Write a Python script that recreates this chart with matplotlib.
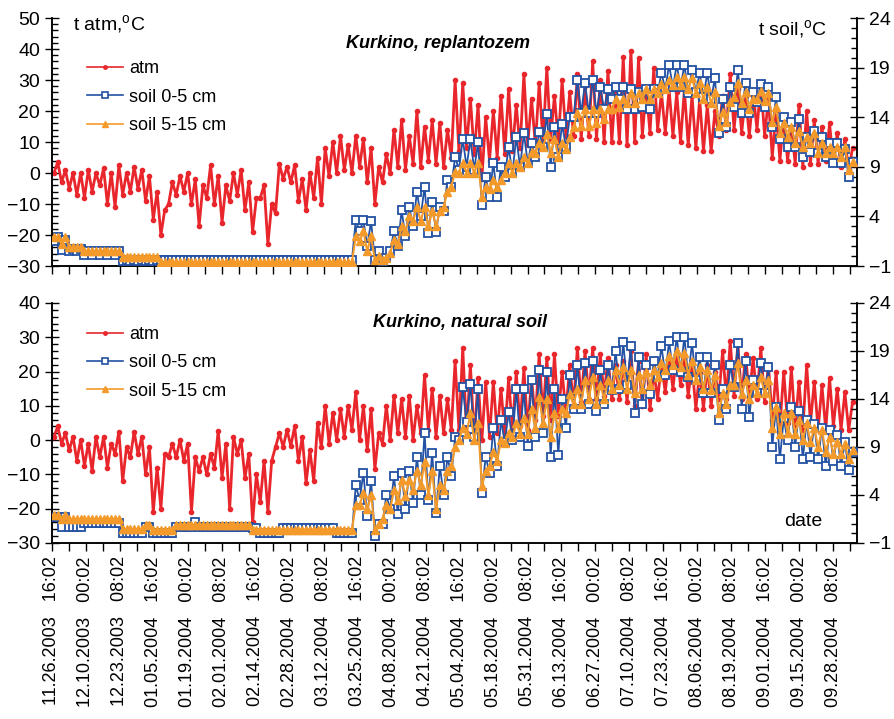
import matplotlib.pyplot as plt
import numpy as np

plt.rcParams['font.family'] = ['Liberation Sans', 'DejaVu Sans']
plt.rcParams['mathtext.fontset'] = 'custom'
plt.rcParams['mathtext.rm'] = 'Liberation Sans'

# every series is stored as 3-day bins: lowest and highest reading in each bin
STEP = 3

TICK_DATES = ['11.26.2003', '12.10.2003', '12.23.2003', '01.05.2004', '01.19.2004',
              '02.01.2004', '02.14.2004', '02.28.2004', '03.12.2004', '03.25.2004',
              '04.08.2004', '04.21.2004', '05.04.2004', '05.18.2004', '05.31.2004',
              '06.13.2004', '06.27.2004', '07.10.2004', '07.23.2004', '08.06.2004',
              '08.19.2004', '09.01.2004', '09.15.2004', '09.28.2004']
TICK_TIMES = ['16:02', '00:02', '08:02'] * 8

# --- Kurkino, replantozem ---
top_atm_lo = [0, -3, -5, -7, -8, -6, -4, -10, -11, -7,
              -6, -5, -9, -15, -20, -10, -7, -6, -10, -17,
              -8, -10, -16, -9, -7, -12, -19, -8, -23, -13,
              -2, -3, -9, -12, -8, -10, -1, 0, 1, 0,
              2, -3, -10, -3, 0, 2, 1, 3, 2, 4,
              3, 2, 5, 7, 8, 6, -2, 4, 5, 6,
              7, 8, 9, 9, 10, 11, 10, 12, 12, 11,
              12, 11, 10, 10, 10, 9, 10, 12, 13, 14,
              13, 12, 10, 9, 8, 7, 7, 12, 14, 14,
              13, 12, 14, 12, 5, 4, 4, 3, 2, 3,
              3, 4, 3, 2, 1]
top_atm_hi = [3.5, 1, 0, 0, 1, 0, 1.5, 0, 2.5, 0,
              2, 1, -1, -6, -12, -3, -1, 0, -2, -4,
              2.5, -1, -4, 0, 1, -3, -8, -4, -10, 3,
              2, 2.5, -2, 0, 5, 8, 10, 12, 9, 12,
              11, 8, 2, 6, 14, 17, 12, 20, 15, 17,
              16, 14, 30, 29, 24, 22, 18, 20, 25, 27,
              22, 32, 24, 29, 34, 25, 30, 26, 32, 28,
              36, 30, 33, 28, 37.5, 39.5, 37, 27, 34, 26,
              27, 26, 27, 25, 24, 22, 20, 25, 32, 27,
              25, 26, 29, 24, 20, 18, 15, 22, 20, 17,
              15, 16, 13, 11, 8]
top_s1_lo = [1.5, 0.6, 0.5, 0.5, 0.1, 0.1, 0.1, 0.1, 0.1, -0.5,
             -0.5, -0.5, -0.5, -0.5, -0.35, -0.35, -0.35, -0.35, -0.35, -0.35,
             -0.35, -0.35, -0.35, -0.35, -0.35, -0.35, -0.35, -0.35, -0.35, -0.35,
             -0.35, -0.35, -0.35, -0.35, -0.35, -0.35, -0.35, -0.35, -0.35, -0.4,
             2.5, 1, -0.4, -0.5, 0.5, 1, 2, 3, 4, 2.3,
             2.4, 4.5, 7, 8.7, 9, 8.7, 5.2, 6, 6, 8,
             8.4, 9, 9.4, 10, 11, 9, 10, 11, 14, 14.4,
             14.4, 14.4, 14.8, 15.8, 15.8, 14.8, 14.8, 15, 14.8, 16.4,
             16.8, 17, 17, 16.4, 16.5, 16, 15.8, 12.4, 13, 15,
             14.4, 14.4, 15.5, 15, 13, 11.8, 11, 11, 10, 10.5,
             10.4, 10, 9.4, 9.4, 8]
top_s1_hi = [1.9, 1.6, 0.7, 0.7, 0.5, 0.5, 0.5, 0.5, 0.5, -0.4,
             -0.4, -0.4, -0.4, -0.4, -0.35, -0.35, -0.35, -0.35, -0.35, -0.35,
             -0.35, -0.35, -0.35, -0.35, -0.35, -0.35, -0.35, -0.35, -0.35, -0.35,
             -0.35, -0.35, -0.35, -0.35, -0.35, -0.35, -0.35, -0.35, -0.35, 3.6,
             3.6, 3.5, 0.5, -0.2, 2.5, 4.6, 5, 6.5, 7, 5.5,
             5, 7.7, 10, 11.8, 11.8, 11.5, 8, 9.4, 9, 11,
             12, 12.4, 11.4, 12.5, 14.3, 13, 13.3, 14, 17.8, 17.5,
             17.8, 17, 16.8, 17, 17, 16.8, 16.5, 16.8, 16.8, 18.5,
             19.3, 19.3, 19.3, 18.8, 18.5, 18.5, 18, 15.8, 17, 18.8,
             17.5, 16.5, 17.4, 17, 16, 14, 13.5, 13.8, 12, 12.6,
             12, 11.4, 11.4, 10.8, 9.5]
top_s2_lo = [1.9, 1.2, 0.9, 0.9, 0.5, 0.5, 0.5, 0.5, 0.5, -0.05,
             -0.05, -0.05, -0.05, -0.05, -0.6, -0.6, -0.6, -0.6, -0.6, -0.6,
             -0.6, -0.6, -0.6, -0.6, -0.6, -0.6, -0.6, -0.6, -0.6, -0.6,
             -0.6, -0.6, -0.6, -0.6, -0.6, -0.6, -0.6, -0.6, -0.6, -0.6,
             1.5, 0.5, -0.4, -0.4, 0.3, 1.2, 2.5, 3.5, 3.5, 3,
             3, 5, 7, 8.4, 8.4, 8.4, 6, 6.8, 7, 8.4,
             8.4, 9, 9.4, 10.4, 11, 10.4, 10, 10.8, 13, 13.1,
             13.1, 13.4, 13.8, 14.8, 15, 15.4, 15.4, 15.8, 15.8, 16.4,
             16.8, 17.2, 17.2, 16.8, 16.4, 15.8, 15.4, 13.1, 13.5, 16,
             15.4, 14.8, 15.8, 15.6, 13.5, 12.4, 12, 11.4, 11, 11.4,
             10.4, 10.4, 10.4, 10, 8.7]
top_s2_hi = [1.9, 1.9, 0.9, 0.9, 0.5, 0.5, 0.5, 0.5, 0.5, -0.05,
             -0.05, -0.05, -0.05, -0.05, -0.6, -0.6, -0.6, -0.6, -0.6, -0.6,
             -0.6, -0.6, -0.6, -0.6, -0.6, -0.6, -0.6, -0.6, -0.6, -0.6,
             -0.6, -0.6, -0.6, -0.6, -0.6, -0.6, -0.6, -0.6, -0.6, 2,
             2.5, 2, 0, -0.2, 1.6, 3, 4, 5, 5, 4.5,
             4.5, 6.5, 8.5, 9.4, 9.4, 9.4, 7, 7.7, 7.7, 9.4,
             9.4, 10, 10.5, 11.4, 12.3, 11.8, 11.4, 12, 14.4, 14.8,
             14.8, 14.8, 14.8, 15.8, 15.8, 16.4, 16.4, 16.8, 16.8, 17.4,
             17.8, 18.1, 18.1, 18, 17.5, 17, 16.5, 14.5, 15.5, 17.5,
             16.5, 15.8, 16.6, 16.4, 15, 13.4, 13, 12.6, 12, 12.4,
             11.4, 11, 11, 11, 9.5]

# --- Kurkino, natural soil ---
bot_atm_lo = [1, -1, -3, -6, -7.5, -9, -5, -8, -4, -12,
              -5, -4, -10, -21, -20, -5, -5, -6, -21, -9,
              -10, -8, -11, -20, -4, -11, -24, -18, -21, -2,
              -2, -1.7, -6, -12.5, -12, -2, -1, 0, 1, 3,
              0, -3, -8.5, -1, 0, 2, 1, 0, 2, 3,
              1, 2, 3, 3, 2, 0, 0, 1, 2, 2,
              3, 4, 3, 6, 7, 6, 7, 8, 10, 11,
              12, 12, 13, 12, 12, 11, 10, 10, 9, 12,
              14, 15, 16, 13, 9, 9, 10, 12, 12, 13,
              12, 13, 12, 11, 6, 4, 5, 4, 3, 5,
              3, 3, 4, 3, 3]
bot_atm_hi = [4, 2, 1, 0, -1, 1, 1, -1, 2.5, -2,
              2.5, 1, -2, -8, -4, -1, 0, -1, -5, -5,
              -4, 2.7, -1, 1, 0, -4, -10, -6, -6, 2,
              3, 4, 1, -3, 5, 10, 8, 9, 10, 14,
              10, 9, 2, 10, 13, 12, 13, 10, 19, 15,
              13, 12, 23, 27, 22, 18, 17, 17, 15, 18,
              20, 21, 18, 25, 24, 25, 20, 22, 27, 26,
              27, 25, 24, 22, 23, 26, 23, 25, 20, 22,
              24, 25, 24, 22, 20, 22, 20, 26, 29, 28,
              25, 24, 27, 22, 20, 20, 21, 17, 22, 17,
              16, 18, 15, 14, 11]
bot_s1_lo = [1.7, 0.7, 0.7, 0.7, 1.1, 1.1, 1.1, 1.1, 1.1, 0.05,
             0.05, 0.05, 0.7, 0, 0, 0, 0.7, 0.7, 0.7, 0.7,
             0.7, 0.7, 0.7, 0.7, 0.7, 0.7, 0.6, 0, 0, 0,
             0.6, 0.6, 0.6, 0.6, 0.6, 0.6, 0.6, 0, 0, 0,
             3.5, 1.8, -0.3, 1, 2.5, 2, 2.5, 3.2, 4, 3.5,
             2.1, 4, 6, 9.7, 11.6, 10, 4.2, 6.3, 7, 9.5,
             9.7, 10, 9.1, 10, 10.5, 8, 8.2, 11, 13, 13,
             13.5, 12.8, 13.5, 14.9, 15, 15.5, 12.5, 13.5, 14.5, 16.3,
             16.5, 17, 16.8, 16.3, 16, 14.6, 14.6, 11.8, 13, 15.3,
             13, 12.1, 14.6, 14.6, 9, 7.7, 9.7, 9, 7.7, 8,
             7.7, 7, 7.5, 7, 6.6]
bot_s1_hi = [1.7, 1.7, 0.7, 0.7, 1.1, 1.1, 1.1, 1.1, 1.1, 0.05,
             0.05, 0.05, 0.7, 0, 0, 0, 0.7, 0.7, 1.2, 0.7,
             0.7, 0.7, 0.7, 0.7, 0.7, 0.7, 0.6, 0, 0, 0,
             0.6, 0.6, 0.6, 0.6, 0.6, 0.6, 0.6, 0, 0, 5,
             6.3, 5.5, 1, 4, 6, 6.3, 6.5, 8, 10.5, 8.4,
             7, 8, 10, 15.2, 15.6, 15, 8, 11, 11.8, 12.6,
             15, 15, 16, 17, 16.8, 15, 14, 16.5, 17.5, 17.7,
             18, 17, 17.5, 19, 19.9, 19.5, 18.4, 17.5, 18, 19.5,
             20, 20.5, 20.5, 19.8, 18.4, 18.4, 17.5, 15, 17.5, 19.8,
             18, 16, 17.7, 17.3, 13.2, 12, 13.2, 12.8, 11.8, 11.4,
             11, 10.8, 10.2, 9.5, 8.5]
bot_s2_lo = [1.9, 1.5, 1.5, 1.5, 1.5, 1.5, 1.5, 1.5, 1.5, 0.45,
             0.45, 0.45, 0.9, 0.4, 0.4, 0.4, 0.9, 0.9, 0.9, 0.9,
             0.9, 0.9, 0.9, 0.9, 0.9, 0.9, 0.4, 0.4, 0.4, 0.4,
             0.4, 0.4, 0.4, 0.4, 0.4, 0.4, 0.4, 0.4, 0.4, 0.4,
             3, 2.5, 0.4, 1.5, 2.5, 3.5, 3.9, 4.5, 5, 4,
             2.5, 4.5, 7, 9.7, 10.4, 9.7, 4.9, 7, 7.5, 9.4,
             10, 10.4, 10.4, 11, 11.5, 10, 11, 12.5, 13.5, 13.5,
             14, 13.5, 14, 15, 15.5, 15, 14.6, 15, 15.5, 16.3,
             17, 17.5, 17.3, 16.5, 16, 15, 14.9, 12.5, 13.5, 15.5,
             14.5, 14, 14.6, 14.6, 11, 10.4, 10.5, 10.4, 9.7, 9.5,
             9, 8.5, 8.3, 8.3, 7.7]
bot_s2_hi = [1.9, 1.9, 1.5, 1.5, 1.5, 1.5, 1.5, 1.5, 1.5, 0.45,
             0.45, 0.45, 0.9, 0.4, 0.4, 0.4, 0.9, 0.9, 0.9, 0.9,
             0.9, 0.9, 0.9, 0.9, 0.9, 0.9, 0.4, 0.4, 0.4, 0.4,
             0.4, 0.4, 0.4, 0.4, 0.4, 0.4, 0.4, 0.4, 0.4, 3,
             4.2, 4, 1, 3, 4.5, 5.6, 5.6, 6.5, 7.4, 6.5,
             5, 6.5, 9, 11, 12.5, 11.5, 6.5, 8.5, 9.7, 10.5,
             11.5, 12, 13, 14.2, 14, 12.5, 13, 14.5, 15, 16,
             16.3, 15.5, 16, 17, 17.3, 17, 16.5, 16.8, 17, 17.8,
             18.5, 19, 18.8, 18, 17.3, 17, 16.5, 14.6, 15.5, 17.7,
             16, 15.5, 16.3, 16, 13.2, 12.5, 12.5, 11.8, 11.5, 11,
             10.8, 10, 9.5, 9.3, 8.7]

RED = '#e8262b'
BLUE = '#2351a3'
ORANGE = '#f39a2a'


def zigzag(lo, hi):
    start = np.arange(len(lo)) * STEP
    x = np.column_stack([start + 0.75, start + 2.25]).ravel()
    y = np.column_stack([lo, hi]).ravel()
    return x, y


def draw_panel(ax, atm, s1, s2, ylim, title, title_xy, legend_y, show_dates):
    ax2 = ax.twinx()

    x, y = zigzag(*atm)
    ax.plot(x, y, color=RED, lw=2.0, marker='o', ms=3, zorder=2)
    x, y = zigzag(*s1)
    ax2.plot(x, y, color=BLUE, lw=1.3, marker='s', ms=5.5, mfc='white',
             mec=BLUE, mew=1.3, zorder=3)
    x, y = zigzag(*s2)
    ax2.plot(x, y, color=ORANGE, lw=1.5, marker='^', ms=5.5, mfc=ORANGE,
             mec=ORANGE, zorder=4)

    # thinner proxies for the legend
    h1, = ax2.plot([], [], color=RED, lw=1.2, marker='o', ms=2.5)
    h2, = ax2.plot([], [], color=BLUE, lw=1.2, marker='s', ms=5, mfc='white',
                   mec=BLUE, mew=1.2)
    h3, = ax2.plot([], [], color=ORANGE, lw=1.2, marker='^', ms=4.5, mfc=ORANGE,
                   mec=ORANGE)

    ax.set_xlim(0, 316)
    ax.set_ylim(*ylim)
    ax2.set_ylim(-1, 24)

    ax.set_yticks(np.arange(ylim[0], ylim[1] + 1, 10))
    ax.set_yticks(np.arange(ylim[0], ylim[1] + 1, 2), minor=True)
    ax2.set_yticks(np.arange(-1, 25, 5))
    ax2.set_yticks(np.arange(-1, 25, 1), minor=True)

    ticks = np.arange(0, 316, 20 / 3)
    ax.set_xticks(ticks)
    if show_dates:
        labels = []
        for k in range(len(ticks)):
            if k % 2 == 0:
                labels.append(f'{TICK_DATES[k // 2]}   {TICK_TIMES[k // 2]}')
            else:
                labels.append('')
        ax.set_xticklabels(labels, rotation=90, fontsize=13)
    else:
        ax.set_xticklabels([])

    ax.tick_params(axis='x', direction='out', length=6, width=1)
    ax.tick_params(axis='y', which='major', direction='inout', length=10, width=1, labelsize=14)
    ax.tick_params(axis='y', which='minor', direction='in', length=4, width=1)
    ax2.tick_params(axis='y', which='major', direction='inout', length=10, width=1, labelsize=14)
    ax2.tick_params(axis='y', which='minor', direction='in', length=4, width=1)

    for a in (ax, ax2):
        a.spines['top'].set_visible(False)
        for s in ('left', 'right', 'bottom'):
            a.spines[s].set_linewidth(1.1)

    ax.text(title_xy[0], title_xy[1], title, transform=ax.transAxes, ha='center',
            va='center', fontsize=13, fontweight='bold', style='italic')

    ax2.legend([h1, h2, h3], ['atm', 'soil 0-5 cm', 'soil 5-15 cm'], loc='upper left',
               bbox_to_anchor=(0.043, legend_y), frameon=False, numpoints=1,
               handlelength=2.0, handletextpad=0.35, labelspacing=0.63,
               borderpad=0, borderaxespad=0, fontsize=13)
    return ax2


fig = plt.figure(figsize=(8.95, 7.19), dpi=100)
ax_top = fig.add_axes([0.0581, 0.6300, 0.8994, 0.3449])
ax_bot = fig.add_axes([0.0581, 0.2448, 0.8994, 0.3338])

draw_panel(ax_top, (top_atm_lo, top_atm_hi), (top_s1_lo, top_s1_hi),
           (top_s2_lo, top_s2_hi), (-30, 50), 'Kurkino, replantozem',
           (0.48, 0.899), 0.83, False)
draw_panel(ax_bot, (bot_atm_lo, bot_atm_hi), (bot_s1_lo, bot_s1_hi),
           (bot_s2_lo, bot_s2_hi), (-30, 40), 'Kurkino, natural soil',
           (0.507, 0.917), 0.904, True)

ax_top.text(0.026, 0.972, 't atm,$^{\\mathrm{o}}$C', transform=ax_top.transAxes,
            ha='left', va='center', fontsize=14)
ax_top.text(0.963, 0.952, 't soil,$^{\\mathrm{o}}$C', transform=ax_top.transAxes,
            ha='right', va='center', fontsize=14)
ax_bot.text(0.957, 0.0875, 'date', transform=ax_bot.transAxes,
            ha='right', va='center', fontsize=14)

fig.savefig('out.png', dpi=100)
